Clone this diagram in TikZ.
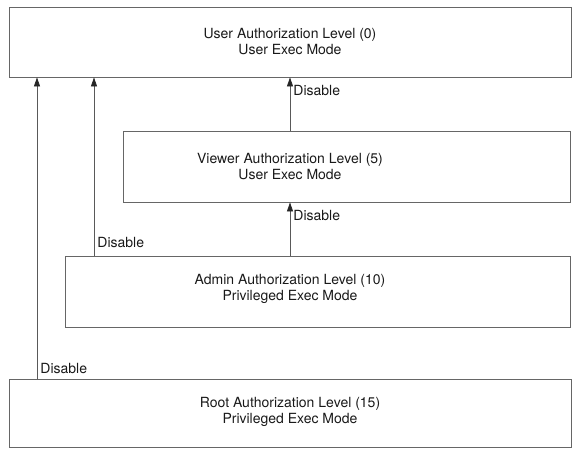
\documentclass[tikz,border=0pt]{standalone}
\usepackage{fontspec}
\setmainfont{TeX Gyre Heros}
\usepackage{tikz}
\usetikzlibrary{arrows.meta,positioning}
\usepackage{xcolor}

\tikzset{
  levelbox/.style={draw=black!60,line width=0.8pt,inner sep=0pt},
  leveltext/.style={align=center,text=black!90,font=\fontsize{14}{16}\selectfont},
  disable/.style={right,text=black!90,font=\fontsize{14}{16}\selectfont,inner sep=3pt},
  uparrow/.style={draw=black!65,line width=0.8pt,-{Triangle[length=9pt,width=6pt,color=black!85]}}
}

\begin{document}
\begin{tikzpicture}[x=1pt,y=-1pt]
  \useasboundingbox (0,0) rectangle (577,448);

  \node[levelbox,minimum width=562pt,minimum height=70pt]	(user)		at (290,42)	{};
  \node[levelbox,minimum width=447pt,minimum height=71pt]	(viewer)	at (346.5,166.5)	{};
  \node[levelbox,minimum width=505pt,minimum height=71pt]	(admin)		at (317.5,291.5)	{};
  \node[levelbox,minimum width=562pt,minimum height=68pt]	(root)		at (290,413.5)	{};

  \node[leveltext] (usertext)	at (user.center)		{User Authorization Level (0)\\User Exec Mode};
  \node[leveltext] (viewertext)	at (viewer.center -| user.center)	{Viewer Authorization Level (5)\\User Exec Mode};
  \node[leveltext] (admintext)	at ([yshift=3pt]admin.center -| user.center)	{Admin Authorization Level (10)\\Privileged Exec Mode};
  \node[leveltext] (roottext)	at ([yshift=2pt]root.center)		{Root Authorization Level (15)\\Privileged Exec Mode};

  \coordinate (rootline)  at (37,0);
  \coordinate (adminline) at (94,0);

  \draw[uparrow] (viewer.north -| user.center) -- node[disable,pos=0.76] {Disable} (user.south);
  \draw[uparrow] (admin.north -| user.center) -- node[disable,pos=0.76] {Disable} (viewer.south -| user.center);
  \draw[uparrow] (admin.north -| adminline) -- node[disable,pos=0.073] {Disable} (user.south -| adminline);
  \draw[uparrow] (root.north -| rootline) -- node[disable,pos=0.036] {Disable} (user.south -| rootline);
\end{tikzpicture}
\end{document}
